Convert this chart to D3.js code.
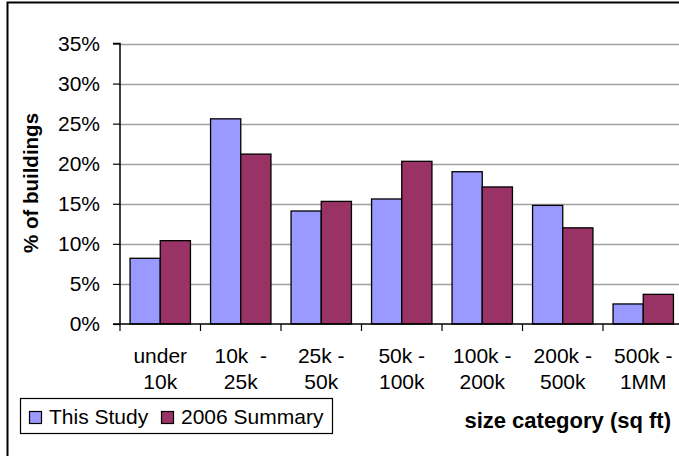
<!DOCTYPE html>
<html><head><meta charset="utf-8">
<script src="https://cdn.jsdelivr.net/npm/d3@7"></script>
<style>body{margin:0;background:#fff;} svg{display:block;font-family:"Liberation Sans",Arial,sans-serif;}</style>
</head><body>
<svg id="c" width="679" height="456"></svg>
<script>
const categories = [["under","10k"],["10k  -","25k"],["25k -","50k"],["50k -","100k"],["100k -","200k"],["200k -","500k"],["500k -","1MM"]];
const seriesNames = ["This Study","2006 Summary"];
const thisStudy = [8.2, 25.6, 14.1, 15.6, 19.0, 14.8, 2.5];
const summary2006 = [10.4, 21.2, 15.3, 20.3, 17.1, 12.0, 3.7];
const yTicks = [0,5,10,15,20,25,30,35];
const colors = ["#9999FF","#993366"];

(function(){
const svg = d3.select("#c");
const pL = 120, pR = 683.5, pT = 43.5, pB = 324;
const keys = categories.map((c,i)=>i);
const x0 = d3.scaleBand().domain(keys).range([pL,pR]).padding(0);
const x1 = d3.scaleBand().domain([0,1]).range([0,x0.bandwidth()]).paddingInner(0).paddingOuter(0.333);
const y = d3.scaleLinear().domain([0,35]).range([pB,pT]);

// outer border
svg.append("rect").attr("x",7.5).attr("y",2.5).attr("width",720).attr("height",500)
  .attr("fill","none").attr("stroke","#000").attr("stroke-width",2);

// gridlines
svg.append("g").selectAll("line").data(yTicks.filter(t=>t>0)).join("line")
  .attr("x1",pL).attr("x2",679).attr("y1",d=>Math.round(y(d))+0.5).attr("y2",d=>Math.round(y(d))+0.5)
  .attr("stroke","#a0a0a0").attr("stroke-width",1.5);

// bars
const data = [thisStudy, summary2006];
data.forEach((vals,s)=>{
  svg.append("g").selectAll("rect").data(vals).join("rect")
    .attr("x",(d,i)=>x0(i)+x1(s))
    .attr("width",x1.bandwidth())
    .attr("y",d=>y(d))
    .attr("height",d=>y(0)-y(d))
    .attr("fill",colors[s]).attr("stroke","#000").attr("stroke-width",1.3);
});

// y axis
const yAxis = d3.axisLeft(y).tickValues(yTicks).tickFormat(d=>d+"%").tickSize(7).tickPadding(13);
const gy = svg.append("g").attr("transform",`translate(${pL},0)`).call(yAxis);
gy.select(".domain").attr("stroke","#000").attr("stroke-width",1.5).attr("d",`M-7,${pT}H0V${pB}`);
gy.selectAll(".tick line").attr("stroke","#000").attr("stroke-width",1.2);
gy.selectAll(".tick text").attr("font-size",21).attr("fill","#000").attr("font-family","Liberation Sans, Arial, sans-serif");

// x axis
const xTickPos = keys.map(k=>x0(k)).concat([pR]);
svg.append("line").attr("x1",pL-7).attr("x2",679).attr("y1",pB).attr("y2",pB).attr("stroke","#000").attr("stroke-width",1.5);
svg.append("g").selectAll("line").data(xTickPos).join("line")
  .attr("x1",d=>d).attr("x2",d=>d).attr("y1",pB).attr("y2",pB+7).attr("stroke","#000").attr("stroke-width",1.2);

// x labels
const xl = svg.append("g").selectAll("text").data(categories).join("text")
  .attr("text-anchor","middle").attr("font-size",21).attr("fill","#000")
  .attr("transform",(d,i)=>`translate(${x0(i)+x0.bandwidth()/2},0)`);
xl.append("tspan").attr("x",0).attr("y",363).style("white-space","pre").text(d=>d[0]);
xl.append("tspan").attr("x",0).attr("y",389).text(d=>d[1]);

// axis titles
svg.append("text").attr("transform","translate(38,183) rotate(-90)").attr("text-anchor","middle")
  .attr("font-size",20.5).attr("font-weight","bold").text("% of buildings");
svg.append("text").attr("x",671).attr("y",428).attr("text-anchor","end")
  .attr("font-size",22).attr("font-weight","bold").text("size category (sq ft)");

// legend
const lg = svg.append("g");
lg.append("rect").attr("x",20.5).attr("y",398.5).attr("width",312).attr("height",35).attr("fill","#fff").attr("stroke","#000").attr("stroke-width",1.2);
const legX = [29,161];
seriesNames.forEach((n,i)=>{
  lg.append("rect").attr("x",legX[i]+0.5).attr("y",411.5).attr("width",12).attr("height",12).attr("fill",colors[i]).attr("stroke","#000").attr("stroke-width",1.2);
  lg.append("text").attr("x",legX[i]+20).attr("y",424).attr("font-size",21).attr("fill","#000").text(n);
});
})();
</script>
</body></html>
